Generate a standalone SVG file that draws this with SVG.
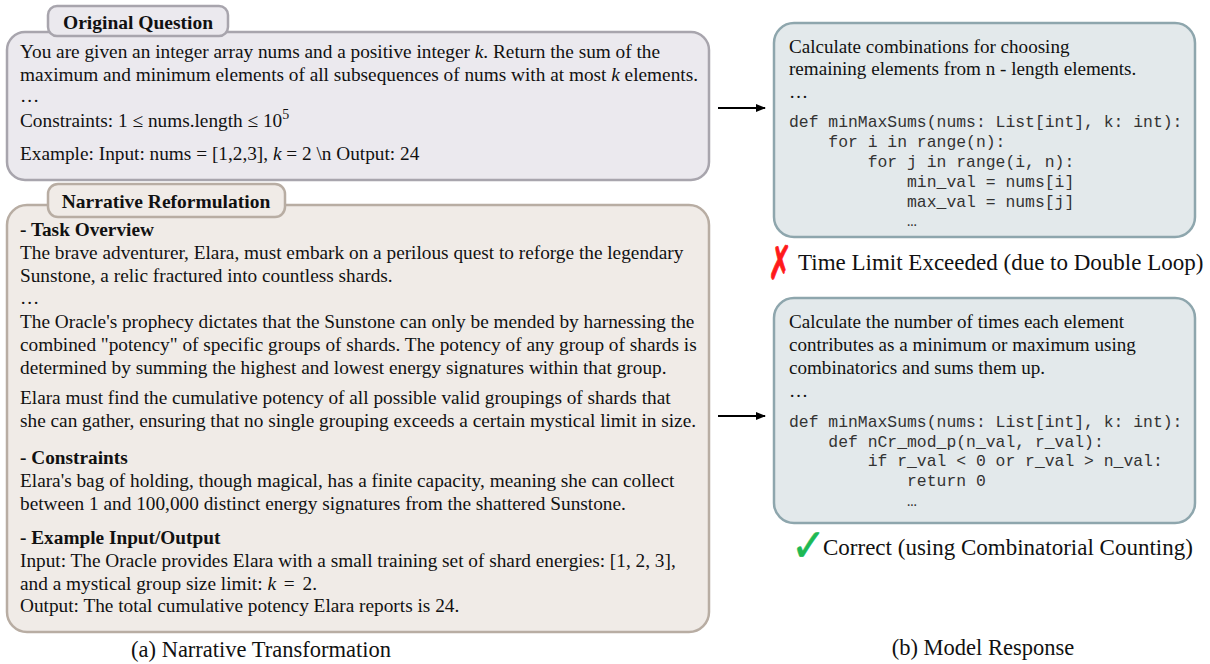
<svg xmlns="http://www.w3.org/2000/svg" width="1210" height="664" viewBox="0 0 1210 664">
<defs>
<marker id="ah" viewBox="0 0 10 10" refX="9" refY="5" markerWidth="10" markerHeight="10" markerUnits="userSpaceOnUse" orient="auto">
<path d="M0,1 L10,5 L0,9 Z" fill="#000"/>
</marker>
</defs>
<style>
text{font-family:"Liberation Serif","Times New Roman",serif;fill:#111;}
.t{font-size:19.3px;}
.b{font-size:19.3px;font-weight:bold;}
.lab{font-size:19.5px;font-weight:bold;text-anchor:middle;}
.r{font-size:19.1px;}
.c{font-family:"Liberation Mono","Courier New",monospace;font-size:16.4px;fill:#333;}
.res{font-size:23px;}
.cap{font-size:22.5px;text-anchor:middle;}
.i{font-style:italic;}
.oq{fill:#ebe9ee;stroke:#a8a5ad;stroke-width:2.5;}
.nr{fill:#f0ebe7;stroke:#b8ada3;stroke-width:2.5;}
.mr{fill:#e3e9eb;stroke:#8ea6ad;stroke-width:2.5;}
.sym{font-family:"DejaVu Sans",sans-serif;}
</style>

<g id="original-question">
<rect class="oq" x="7" y="32" width="702" height="148" rx="18"/>
<rect class="oq" x="48" y="6" width="180" height="30" rx="9"/>
<text class="lab" x="138" y="29">Original Question</text>
<text class="t" x="20" y="58">You are given an integer array nums and a positive integer <tspan class="i">k</tspan>. Return the sum of the</text>
<text class="t" x="20" y="81">maximum and minimum elements of all subsequences of nums with at most <tspan class="i">k</tspan> elements.</text>
<text class="t" x="20" y="102">…</text>
<text class="t" x="20" y="127">Constraints: 1 ≤ nums.length ≤ 10<tspan font-size="14" dy="-8">5</tspan></text>
<text class="t" x="20" y="160">Example: Input: nums = [1,2,3], <tspan class="i">k</tspan> = 2 \n Output: 24</text>
</g>

<g id="narrative-reformulation">
<rect class="nr" x="7" y="205" width="702" height="427" rx="20"/>
<rect class="nr" x="48" y="184" width="237" height="33" rx="10"/>
<text class="lab" x="166" y="208">Narrative Reformulation</text>
<text class="b" x="20" y="236">- Task Overview</text>
<text class="t" x="20" y="259">The brave adventurer, Elara, must embark on a perilous quest to reforge the legendary</text>
<text class="t" x="20" y="282">Sunstone, a relic fractured into countless shards.</text>
<text class="t" x="20" y="304">…</text>
<text class="t" x="20" y="328">The Oracle's prophecy dictates that the Sunstone can only be mended by harnessing the</text>
<text class="t" x="20" y="351">combined "potency" of specific groups of shards. The potency of any group of shards is</text>
<text class="t" x="20" y="374">determined by summing the highest and lowest energy signatures within that group.</text>
<text class="t" x="20" y="404">Elara must find the cumulative potency of all possible valid groupings of shards that</text>
<text class="t" x="20" y="427">she can gather, ensuring that no single grouping exceeds a certain mystical limit in size.</text>
<text class="b" x="20" y="464">- Constraints</text>
<text class="t" x="20" y="487">Elara's bag of holding, though magical, has a finite capacity, meaning she can collect</text>
<text class="t" x="20" y="510">between 1 and 100,000 distinct energy signatures from the shattered Sunstone.</text>
<text class="b" x="20" y="544">- Example Input/Output</text>
<text class="t" x="20" y="567">Input: The Oracle provides Elara with a small training set of shard energies: [1, 2, 3],</text>
<text class="t" x="20" y="590">and a mystical group size limit: <tspan class="i">k</tspan> <tspan dx="3">=</tspan> <tspan dx="3">2.</tspan></text>
<text class="t" x="20" y="612">Output: The total cumulative potency Elara reports is 24.</text>
</g>

<g id="response-tle">
<rect class="mr" x="774" y="23" width="421" height="214" rx="20"/>
<text class="r" x="789" y="53">Calculate combinations for choosing</text>
<text class="r" x="789" y="75">remaining elements from n - length elements.</text>
<text class="r" x="789" y="98">…</text>
<text class="c" x="789" y="127" xml:space="preserve">def minMaxSums(nums: List[int], k: int):</text>
<text class="c" x="789" y="147" xml:space="preserve">    for i in range(n):</text>
<text class="c" x="789" y="167" xml:space="preserve">        for j in range(i, n):</text>
<text class="c" x="789" y="187" xml:space="preserve">            min_val = nums[i]</text>
<text class="c" x="789" y="207" xml:space="preserve">            max_val = nums[j]</text>
<text class="c" x="789" y="226" xml:space="preserve">            …</text>
</g>

<g id="verdict-tle">
<text class="sym" transform="translate(768,279) scale(0.95,1.55)" font-size="30" style="fill:#ff1a1a;stroke:#ff1a1a;stroke-width:0.6">✗</text>
<text class="res" x="798" y="270">Time Limit Exceeded (due to Double Loop)</text>
</g>

<g id="response-correct">
<rect class="mr" x="774" y="298" width="421" height="225" rx="20"/>
<text class="r" x="789" y="328">Calculate the number of times each element</text>
<text class="r" x="789" y="351">contributes as a minimum or maximum using</text>
<text class="r" x="789" y="374">combinatorics and sums them up.</text>
<text class="r" x="789" y="397">…</text>
<text class="c" x="789" y="427" xml:space="preserve">def minMaxSums(nums: List[int], k: int):</text>
<text class="c" x="789" y="447" xml:space="preserve">    def nCr_mod_p(n_val, r_val):</text>
<text class="c" x="789" y="466" xml:space="preserve">        if r_val &lt; 0 or r_val &gt; n_val:</text>
<text class="c" x="789" y="486" xml:space="preserve">            return 0</text>
<text class="c" x="789" y="506" xml:space="preserve">            …</text>
</g>

<g id="verdict-correct">
<text class="sym" transform="translate(791,561) scale(1.05,1.15)" font-size="40" style="fill:#1db954;stroke:#1db954;stroke-width:0.5">✓</text>
<text class="res" x="823" y="555">Correct (using Combinatorial Counting)</text>
</g>

<g id="connectors" stroke="#000" stroke-width="2" fill="none">
<line x1="718" y1="108" x2="765" y2="108" marker-end="url(#ah)"/>
<line x1="718" y1="416" x2="765" y2="416" marker-end="url(#ah)"/>
</g>

<g id="captions">
<text class="cap" x="261" y="657">(a) Narrative Transformation</text>
<text class="cap" x="983" y="655">(b) Model Response</text>
</g>
</svg>
